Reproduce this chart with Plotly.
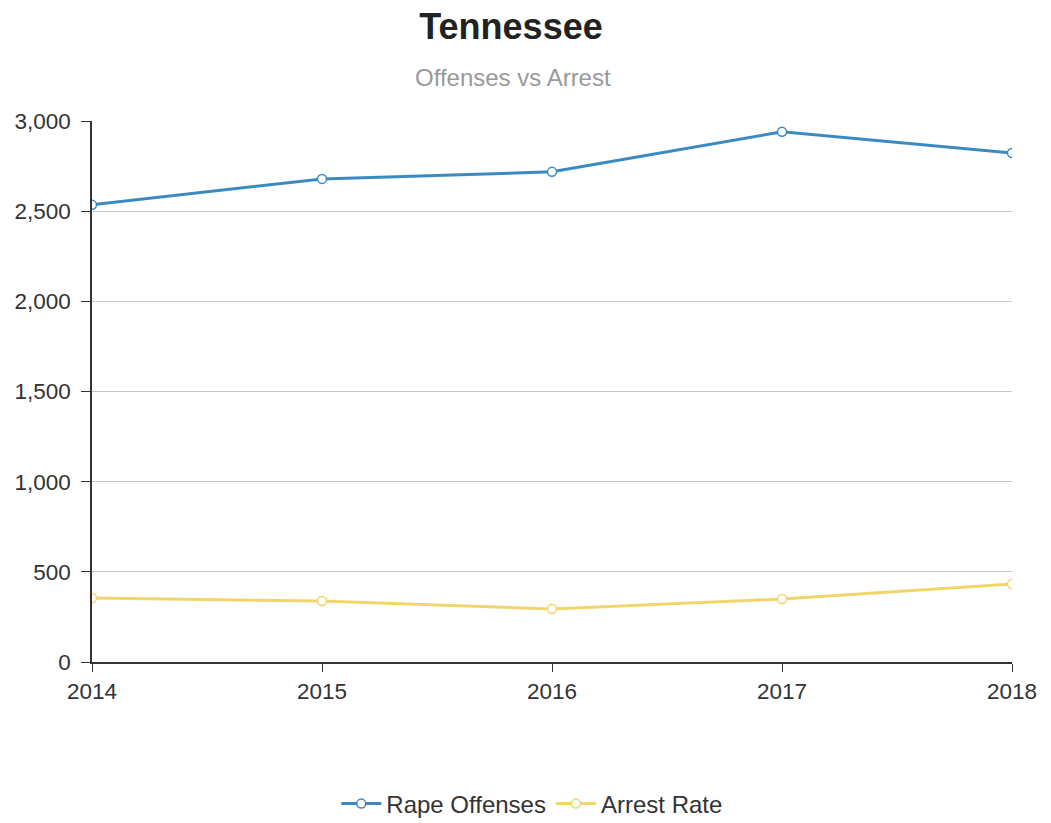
import plotly.graph_objects as go

years = [2014, 2015, 2016, 2017, 2018]
rape_offenses = [2535, 2679, 2718, 2940, 2823]
arrest_rate = [355, 338, 294, 349, 432]
y_ticks = [0, 500, 1000, 1500, 2000, 2500, 3000]

FONT = "Liberation Sans, Arial, Helvetica, sans-serif"
BLUE = "#3a8ac2"
YELLOW = "#f2d56a"

W, H = 1051, 823
ML, MR, MT, MB = 92, 39, 121, 161
PH = H - MT - MB
PW = W - ML - MR

fig = go.Figure()
fig.add_trace(go.Scatter(
    x=years, y=rape_offenses, name="Rape Offenses", mode="lines+markers",
    line=dict(color=BLUE, width=3),
    marker=dict(symbol="circle", size=9, color="white", line=dict(color=BLUE, width=1.5)),
))
fig.add_trace(go.Scatter(
    x=years, y=arrest_rate, name="Arrest Rate", mode="lines+markers",
    line=dict(color=YELLOW, width=3),
    marker=dict(symbol="circle", size=9, color="white", line=dict(color=YELLOW, width=1.5)),
))

fig.update_layout(
    width=W, height=H,
    paper_bgcolor="white", plot_bgcolor="white",
    margin=dict(l=ML, r=MR, t=MT, b=MB, autoexpand=False),
    font=dict(family=FONT, size=22, color="#333"),
    title=dict(text="<b>Tennessee</b>", x=511 / W, xanchor="center", y=1 - 26 / H, yanchor="middle",
               font=dict(family=FONT, size=36, color="#222")),
    showlegend=True,
    legend=dict(orientation="h", x=503 / W, xanchor="center", y=(PH + MT - 804) / PH, yanchor="middle",
                font=dict(family=FONT, size=24, color="#333"), itemwidth=40),
    annotations=[dict(text="Offenses vs Arrest", xref="paper", yref="paper", x=(513 - ML) / PW,
                      xanchor="center", y=1 + (MT - 77) / PH, yanchor="middle", showarrow=False,
                      font=dict(family=FONT, size=24, color="#999"))],
)
fig.update_xaxes(
    range=[2014, 2018], tickvals=years, ticktext=[str(y) for y in years],
    showline=True, linecolor="#333", linewidth=1.5,
    ticks="outside", ticklen=8, tickcolor="#333", showgrid=False, zeroline=False,
    tickfont=dict(size=22.5, color="#333"),
)
fig.update_yaxes(
    range=[0, 3000], tickvals=y_ticks, ticktext=[f"{v:,}" for v in y_ticks],
    showline=True, linecolor="#333", linewidth=1.5,
    ticks="outside", ticklen=9, tickcolor="#333",
    showgrid=True, gridcolor="#c8c8c8", gridwidth=1.2, zeroline=False,
    tickfont=dict(size=22.5, color="#333"), ticklabelstandoff=6,
)

fig.write_html("out.html", config={"displayModeBar": False},
               post_script="document.body.style.margin='0';")
